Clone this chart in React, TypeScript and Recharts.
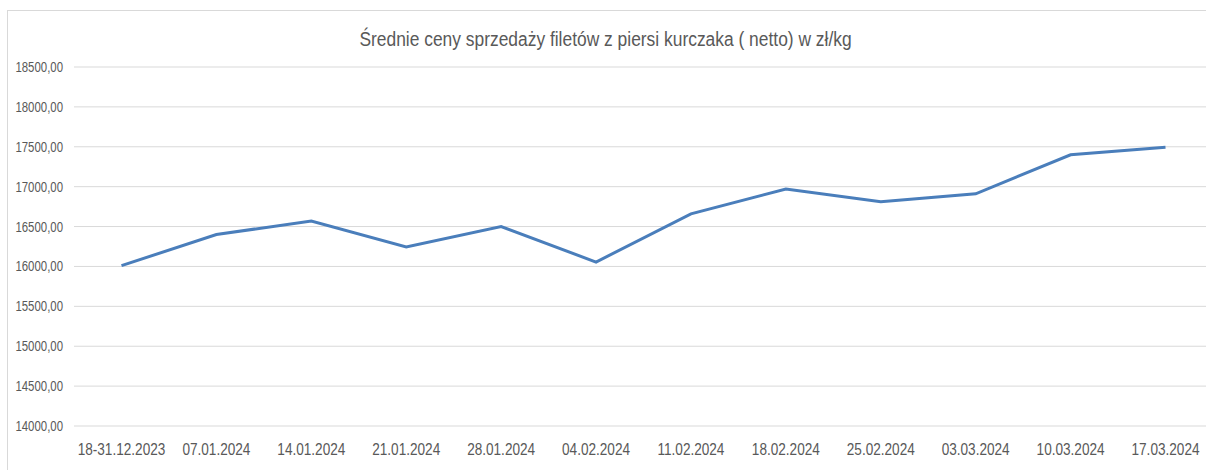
import React from 'react';
import { LineChart, Line, XAxis, YAxis, CartesianGrid } from 'recharts';

const categories = [
  '18-31.12.2023', '07.01.2024', '14.01.2024', '21.01.2024', '28.01.2024', '04.02.2024',
  '11.02.2024', '18.02.2024', '25.02.2024', '03.03.2024', '10.03.2024', '17.03.2024',
];
const prices = [16010, 16400, 16570, 16245, 16500, 16055, 16660, 16970, 16810, 16910, 17400, 17495];
const yTicks = [14000, 14500, 15000, 15500, 16000, 16500, 17000, 17500, 18000, 18500];
const title = 'Średnie ceny sprzedaży filetów z piersi kurczaka ( netto) w zł/kg';

const data = categories.map((c, i) => ({ name: c, value: prices[i] }));

const FONT = '"Liberation Sans", Arial, sans-serif';
const TEXT = '#595959';
const fmt = (v: number) => v.toFixed(2).replace('.', ',');

const XTick = (props: any) => {
  const { x, y, payload } = props;
  return (
    <text
      x={x}
      y={y}
      dy="0.71em"
      textAnchor="middle"
      fill={TEXT}
      fontSize={16}
      fontFamily={FONT}
      transform={`translate(${x},0) scale(0.85,1) translate(${-x},0)`}
    >
      {payload.value}
    </text>
  );
};

const YTick = (props: any) => {
  const { x, y, payload } = props;
  return (
    <text
      x={x}
      y={y}
      dy="0.355em"
      textAnchor="end"
      fill={TEXT}
      fontSize={14}
      fontFamily={FONT}
      transform={`translate(${x},0) scale(0.815,1) translate(${-x},0)`}
    >
      {fmt(payload.value)}
    </text>
  );
};

export default function App() {
  return (
    <div style={{ position: 'absolute', left: 0, top: 0, width: 1206, height: 470, overflow: 'hidden', background: '#fff' }}>
      <div style={{ position: 'absolute', left: 7, top: 10, width: 1240, height: 500, border: '1px solid #d9d9d9', boxSizing: 'border-box' }} />
      <div style={{ position: 'absolute', left: 0, top: 28, width: 1211, textAlign: 'center', fontFamily: FONT, fontSize: 20, color: TEXT, whiteSpace: 'nowrap', transform: 'scaleX(0.87)', transformOrigin: '605.5px 0' }}>
        {title}
      </div>
      <div style={{ position: 'absolute', left: 0, top: 0 }}>
        <LineChart width={1230} height={470} data={data} margin={{ top: 67, right: 17, bottom: 0, left: 0 }}>
          <CartesianGrid vertical={false} stroke="#d9d9d9" strokeWidth={1} />
          <XAxis
            dataKey="name"
            height={44}
            axisLine={false}
            tickLine={false}
            tickSize={6}
            tickMargin={12}
            interval={0}
            padding={{ left: 47.5, right: 47.5 }}
            tick={<XTick />}
          />
          <YAxis
            width={74}
            domain={[14000, 18500]}
            ticks={yTicks}
            axisLine={false}
            tickLine={false}
            tickSize={6}
            tickMargin={5}
            tick={<YTick />}
          />
          <Line
            type="linear"
            dataKey="value"
            stroke="#4a7ebb"
            strokeWidth={3}
            dot={false}
            isAnimationActive={false}
          />
        </LineChart>
      </div>
    </div>
  );
}
